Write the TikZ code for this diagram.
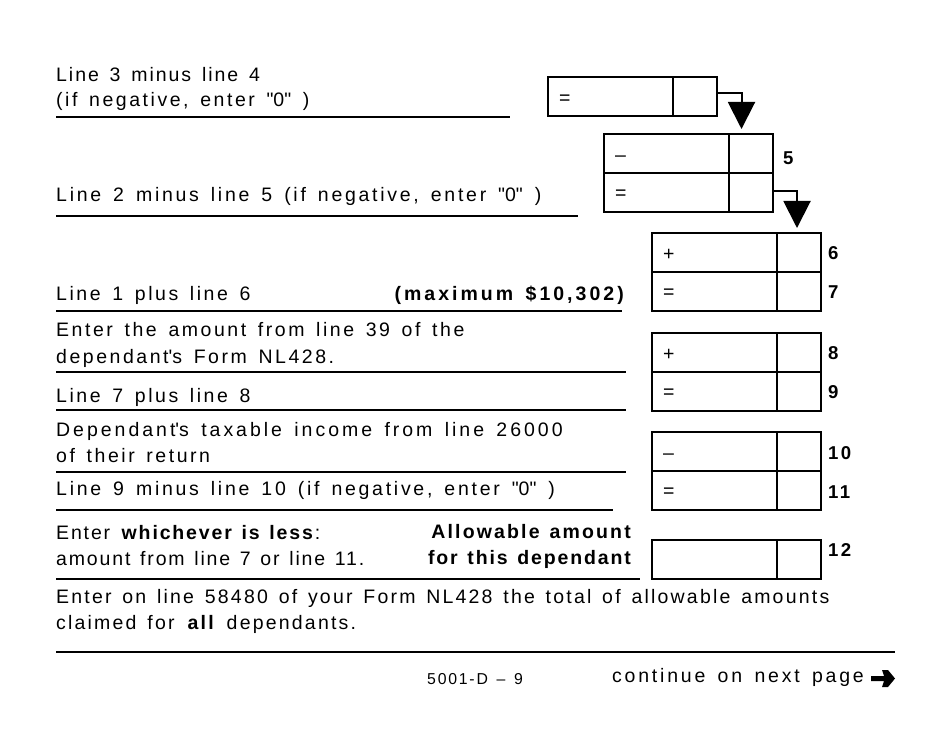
\documentclass[tikz,border=0pt]{standalone}
\usepackage{fontspec}
\setmainfont{Liberation Sans}[LetterSpace=13, WordSpace=1.47]
\newfontfamily\lessfont{Liberation Sans}[LetterSpace=9.5, WordSpace=1.33]
\newfontfamily\totalfont{Liberation Sans}[LetterSpace=11.3, WordSpace=1.42]
\newfontfamily\nextfont{Liberation Sans}[LetterSpace=14.3, WordSpace=1.5]
\usetikzlibrary{arrows.meta,positioning}

\newcommand{\qq}{\textquotedbl}

\tikzset{
  lbl/.style={anchor=base west, inner sep=0},
  lblr/.style={anchor=base east, inner sep=0},
  amtcell/.style={draw, line width=2pt, outer sep=0, inner sep=0, anchor=north west,
    minimum width=125pt, minimum height=39pt},
  centcell/.style={draw, line width=2pt, outer sep=0, inner sep=0,
    minimum width=44pt, minimum height=39pt},
  sign/.style={anchor=west, inner sep=0},
  linenum/.style={anchor=west, inner sep=0, font=\fontsize{18.6}{24}\selectfont\bfseries},
  rule/.style={line width=2pt},
  flow/.style={line width=2pt, -{Triangle[width=27pt,length=27pt]}},
}

\begin{document}
\begin{tikzpicture}[x=1pt, y=-1pt, font=\fontsize{19.5}{24}\selectfont]

\fill[white] (0,0) rectangle (950,735);
\useasboundingbox (0,0) rectangle (950,735);

% text of the calculation lines
\node[lbl] (t3m4a) at (56,82) {\addfontfeatures{LetterSpace=10}Line 3 minus line 4};
\node[lbl] (t3m4b) at (56,107) {(if negative, enter \qq0\qq{} )};
\draw[rule] (56,117) -- (510,117);

\node[lbl] (t2m5) at (56,202) {\addfontfeatures{LetterSpace=14}Line 2 minus line 5 (if negative, enter \qq0\qq{} )};
\draw[rule] (56,216) -- (578,216);

\node[lbl] (t1p6) at (56,301) {Line 1 plus line 6};
\node[lblr] (tmax) at (624,301) {\bfseries\addfontfeatures{LetterSpace=15.5}(maximum \$10,302)};
\draw[rule] (56,311) -- (622,311);

\node[lbl] (t8a) at (56,336) {Enter the amount from line 39 of the};
\node[lbl] (t8b) at (56,363) {dependant\textquotesingle s Form NL428.};
\draw[rule] (56,372) -- (626,372);

\node[lbl] (t7p8) at (56,402) {Line 7 plus line 8};
\draw[rule] (56,410) -- (626,410);

\node[lbl] (t10a) at (56,436) {\addfontfeatures{LetterSpace=15.3}Dependant\textquotesingle s taxable income from line 26000};
\node[lbl] (t10b) at (56,462) {of their return};
\draw[rule] (56,472) -- (626,472);

\node[lbl] (t9m10) at (56,495) {\addfontfeatures{LetterSpace=14}Line 9 minus line 10 (if negative, enter \qq0\qq{} )};
\draw[rule] (56,510) -- (613,510);

\node[lbl, font=\fontsize{19.5}{24}\lessfont] (tlessa) at (56,539) {Enter \textbf{whichever is less}:};
\node[lbl, font=\fontsize{19.5}{24}\lessfont] (tlessb) at (56,565) {amount from line 7 or line 11.};
\node[lblr, font=\fontsize{19.5}{24}\lessfont\bfseries] (tallowa) at (631,538) {\addfontfeatures{LetterSpace=11}Allowable amount};
\node[lblr, font=\fontsize{19.5}{24}\lessfont\bfseries] (tallowb) at (631,564) {for this dependant};
\draw[rule] (56,579) -- (640,579);

\node[lbl, font=\fontsize{19.5}{24}\totalfont] (ttotala) at (56,603) {Enter on line 58480 of your Form NL428 the total of allowable amounts};
\node[lbl, font=\fontsize{19.5}{24}\totalfont] (ttotalb) at (56,629) {claimed for \textbf{all} dependants.};
\draw[rule] (56,652) -- (895,652);

% footer
\node[lbl, font=\fontsize{15.8}{20}\totalfont] (tpage) at (427,684) {5001-D – 9};
\node[lbl, font=\fontsize{19.5}{24}\nextfont] (tnext) at (612,682) {continue on next page};
\fill (871,676) -- (884,676) -- (882,670) -- (888,670) -- (895,678.5) -- (888,687)
  -- (882,687) -- (884,681) -- (871,681) -- cycle;

% amount boxes
\node[amtcell] (amt3m4) at (548,77) {};
\node[centcell, right=0pt of amt3m4] (cent3m4) {};
\node[sign] (sg3m4) at ([xshift=11pt,yshift=-3pt]amt3m4.west) {=};

\node[amtcell] (amt5) at (604,134) {};
\node[centcell, right=0pt of amt5] (cent5) {};
\node[amtcell, below=0pt of amt5.south west, anchor=north west] (amt2m5) {};
\node[centcell, right=0pt of amt2m5] (cent2m5) {};
\node[sign] (sg5) at ([xshift=11pt,yshift=-5pt]amt5.west) {–};
\node[sign] (sg2m5) at ([xshift=11pt,yshift=-2pt]amt2m5.west) {=};
\node[linenum] (num5) at (783,158.3) {5};

\foreach \id/\yy/\sg/\dy/\ny in {6/233/+/-2/253, 7/272/=/-2/292.3, 8/333/+/-2/353.3,
  9/372/=/-2/392.3, 10/432/–/-5/452.7, 11/471/=/-2/491.7, 12/540//0/550}
{
  \node[amtcell] (amt\id) at (652,\yy) {};
  \node[centcell, right=0pt of amt\id] (cent\id) {};
  \node[sign] (sg\id) at ([xshift=11pt,yshift=\dy pt]amt\id.west) {\sg};
  \node[linenum] (num\id) at (828,\ny) {\id};
}

% carry-down arrows
\draw[flow, shorten >=5pt] ([yshift=3.5pt]cent3m4.east) -| ([xshift=-9.5pt]cent5.north);
\draw[flow, shorten >=5pt] ([yshift=1.5pt]cent2m5.east) -| ([xshift=-2pt]cent6.north);

\end{tikzpicture}
\end{document}
